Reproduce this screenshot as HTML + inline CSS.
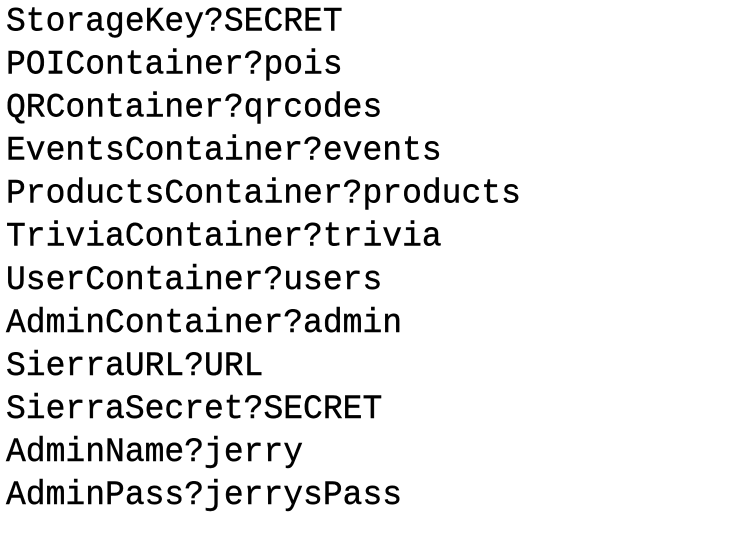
<!DOCTYPE html>
<html><head><meta charset="utf-8"><style>
html,body{margin:0;padding:0;background:#fff;width:756px;height:536px;overflow:hidden}
pre{margin:0;position:absolute;left:6px;top:0px;font-family:"Liberation Mono",monospace;font-size:33px;line-height:41px;color:#000;-webkit-text-stroke:0.4px #000;transform:scaleY(1.05);transform-origin:0 0}
</style></head><body><pre>StorageKey?SECRET
POIContainer?pois
QRContainer?qrcodes
EventsContainer?events
ProductsContainer?products
TriviaContainer?trivia
UserContainer?users
AdminContainer?admin
SierraURL?URL
SierraSecret?SECRET
AdminName?jerry
AdminPass?jerrysPass</pre></body></html>
